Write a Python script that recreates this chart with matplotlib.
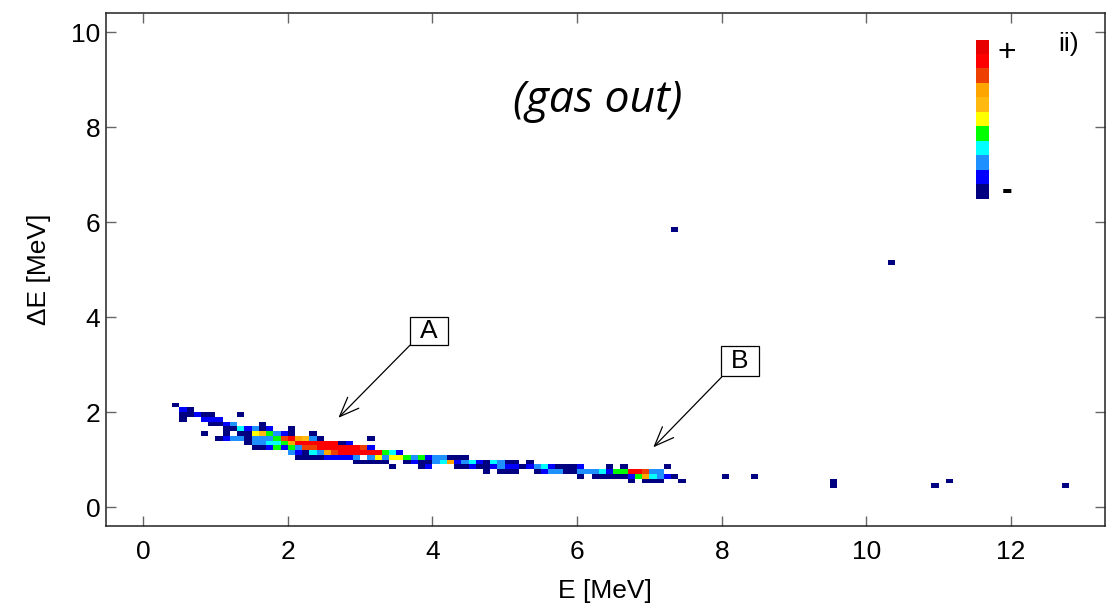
import numpy as np
import matplotlib
matplotlib.use("Agg")
import matplotlib.pyplot as plt
from matplotlib.colors import ListedColormap, BoundaryNorm
from matplotlib.patches import Rectangle

plt.rcParams['font.family'] = ['Liberation Sans', 'DejaVu Sans']

# ---- discrete colour levels (bottom "-" to top "+") ----
level_colors = ['#000080', '#0000FF', '#1E90FF', '#00FFFF', '#00FF00', '#FFFF00',
                '#FFB90F', '#FFA500', '#EE4000', '#FF0000', '#E80000']
levels = list(range(1, 12))

# ---- 2D histogram cells: lower edge of dE bin, lower edges of E bins, colour level ----
row_de = [2.1, 2.0, 1.9, 1.8, 1.7, 1.6, 1.5, 1.4, 1.3, 1.2, 1.1, 1.0, 0.9, 0.8, 0.7, 0.6, 0.5, 0.4, 5.8, 5.1]
row_e = [
    [0.4],
    [0.5, 0.6],
    [0.5, 0.6, 0.7, 0.8, 0.9, 1.3],
    [0.5, 0.8, 0.9, 1.0],
    [0.9, 1.0, 1.1, 1.2, 1.6],
    [1.1, 1.2, 1.3, 1.4, 1.5, 1.6, 1.7, 2.0],
    [0.8, 1.1, 1.3, 1.4, 1.5, 1.6, 1.7, 1.8, 1.9, 2.0, 2.3],
    [1.0, 1.1, 1.2, 1.3, 1.4, 1.5, 1.6, 1.7, 1.8, 1.9, 2.0, 2.1, 2.2, 2.3, 2.4, 3.1],
    [1.4, 1.5, 1.6, 1.7, 1.8, 1.9, 2.0, 2.1, 2.2, 2.3, 2.4, 2.5, 2.6, 2.7, 2.8],
    [1.5, 1.6, 1.7, 1.8, 1.9, 2.0, 2.1, 2.2, 2.3, 2.4, 2.5, 2.6, 2.7, 2.8, 2.9, 3.0, 3.1],
    [2.0, 2.1, 2.2, 2.3, 2.4, 2.5, 2.6, 2.7, 2.8, 2.9, 3.0, 3.1, 3.2, 3.3, 3.4, 3.5],
    [2.1, 2.2, 2.3, 2.4, 2.5, 2.6, 2.7, 2.8, 2.9, 3.1, 3.2, 3.3, 3.4, 3.5, 3.6, 3.7, 3.8, 3.9,
     4.0, 4.1, 4.2, 4.3, 4.4],
    [2.9, 3.0, 3.1, 3.2, 3.3, 3.6, 3.7, 3.8, 3.9, 4.0, 4.1, 4.2, 4.3, 4.4, 4.5, 4.6, 4.7, 4.8,
     4.9, 5.0, 5.1, 5.3],
    [3.4, 3.8, 3.9, 4.3, 4.4, 4.5, 4.6, 4.7, 4.8, 4.9, 5.0, 5.1, 5.2, 5.3, 5.4, 5.5, 5.6, 5.7,
     5.8, 5.9, 6.0, 6.4, 6.6, 7.2],
    [4.7, 4.9, 5.0, 5.1, 5.4, 5.5, 5.6, 5.7, 5.8, 5.9, 6.0, 6.1, 6.2, 6.3, 6.4, 6.5, 6.6, 6.7,
     6.8, 6.9, 7.0, 7.1],
    [6.0, 6.2, 6.3, 6.4, 6.5, 6.6, 6.7, 6.8, 6.9, 7.0, 7.1, 7.2, 7.3, 8.0, 8.4],
    [6.7, 6.9, 7.0, 7.1, 7.4, 9.5, 11.1],
    [9.5, 10.9, 12.7],
    [7.3],
    [10.3],
]
row_level = [
    [1],
    [2, 1],
    [1, 1, 2, 1, 1, 1],
    [1, 2, 2, 2],
    [1, 1, 2, 3, 1],
    [1, 1, 4, 2, 3, 1, 2, 1],
    [1, 1, 1, 1, 6, 7, 5, 3, 2, 1, 1],
    [1, 2, 3, 3, 1, 3, 3, 3, 5, 9, 10, 8, 7, 3, 1, 1],
    [1, 3, 3, 4, 4, 5, 8, 10, 10, 10, 10, 10, 10, 1, 2],
    [1, 1, 2, 5, 2, 5, 3, 9, 9, 10, 10, 10, 10, 10, 10, 9, 2],
    [3, 2, 1, 4, 3, 8, 9, 10, 10, 10, 10, 10, 10, 5, 4, 2],
    [1, 1, 1, 1, 2, 2, 2, 2, 3, 3, 6, 3, 6, 6, 5, 3, 5, 2, 3, 3, 1, 1, 1],
    [1, 1, 1, 1, 1, 1, 2, 1, 1, 3, 4, 8, 2, 3, 4, 2, 1, 4, 3, 1, 1, 1],
    [1, 1, 2, 1, 1, 2, 1, 1, 2, 3, 2, 2, 1, 2, 3, 4, 2, 1, 1, 1, 2, 1, 1, 1],
    [1, 1, 1, 1, 1, 2, 3, 3, 1, 1, 3, 3, 3, 4, 2, 5, 5, 10, 10, 9, 3, 3],
    [1, 1, 1, 1, 1, 1, 2, 5, 8, 4, 3, 2, 1, 1, 1],
    [1, 1, 1, 1, 1, 1, 1],
    [1, 1, 1],
    [1],
    [1],
]

bin_width = 0.1
x_ticks = [0, 2, 4, 6, 8, 10, 12]
y_ticks = [0, 2, 4, 6, 8, 10]

# flatten cells
cell_e, cell_de, cell_lv = [], [], []
for de, es, lvs in zip(row_de, row_e, row_level):
    for e, lv in zip(es, lvs):
        cell_e.append(e)
        cell_de.append(de)
        cell_lv.append(lv)
cell_e = np.array(cell_e)
cell_de = np.array(cell_de)
cell_lv = np.array(cell_lv, dtype=float)

x_edges = np.round(np.arange(-0.5, 13.35, bin_width), 2)
y_edges = np.round(np.arange(-0.4, 10.45, bin_width), 2)
H, _, _ = np.histogram2d(cell_e + bin_width / 2, cell_de + bin_width / 2,
                         bins=[x_edges, y_edges], weights=cell_lv)
H = np.ma.masked_equal(H.T, 0)

cmap = ListedColormap(level_colors)
norm = BoundaryNorm(np.arange(0.5, 12.0, 1.0), cmap.N)

fig = plt.figure(figsize=(11.13, 6.04), dpi=100)
ax = fig.add_axes([0.0950, 0.1291, 0.8978, 0.8494])
ax.pcolormesh(x_edges, y_edges, H, cmap=cmap, norm=norm, shading='flat')

ax.set_xlim(-0.517, 13.30)
ax.set_ylim(-0.40, 10.41)
ax.set_xticks(x_ticks)
ax.set_yticks(y_ticks)
ax.tick_params(direction='in', length=7.2, width=1.0, color='#666666',
               top=True, right=True, labelsize=19)
ax.tick_params(axis='x', pad=10)
ax.tick_params(axis='y', pad=4)
for sp in ax.spines.values():
    sp.set_linewidth(1.1)
    sp.set_color('#222222')

ax.set_xlabel('E [MeV]', fontsize=19, labelpad=11)
ax.set_ylabel('\u0394E [MeV]', fontsize=19, labelpad=14)

# annotations
ax.text(6.29, 8.57, '(gas out)', fontsize=32, style='italic',
        family=['Open Sans', 'DejaVu Sans'], ha='center', va='center')
ax.text(0.964, 0.940, 'ii)', transform=ax.transAxes, fontsize=19, ha='center', va='center')

arrow_kw = dict(arrowstyle='->,head_length=1.0,head_width=0.4', lw=0.9, color='black',
                shrinkA=0, shrinkB=0, mutation_scale=14)
ax.annotate('', xy=(2.70, 1.88), xytext=(3.69, 3.41), arrowprops=arrow_kw)
ax.annotate('', xy=(7.054, 1.258), xytext=(8.00, 2.74), arrowprops=arrow_kw)

for (x0, y0, w, h, lab) in [(3.690, 3.413, 0.526, 0.590, 'A'), (7.990, 2.760, 0.526, 0.632, 'B')]:
    ax.add_patch(Rectangle((x0, y0), w, h, facecolor='white', edgecolor='black', lw=0.9, zorder=5))
    ax.text(x0 + w / 2, y0 + h / 2, lab, fontsize=19, ha='center', va='center', zorder=6)

# colour-level key
cax = fig.add_axes([0.8770, 0.6705, 0.0108, 0.2633])
cax.imshow(np.array(levels)[:, None], origin='lower', cmap=cmap, norm=norm,
           aspect='auto', interpolation='nearest')
cax.set_axis_off()
fig.text(0.9045, 0.913, '+', fontsize=23, ha='center', va='center')
fig.text(0.9045, 0.683, '-', fontsize=23, ha='center', va='center', weight='bold')

fig.savefig('out.png', dpi=100)
